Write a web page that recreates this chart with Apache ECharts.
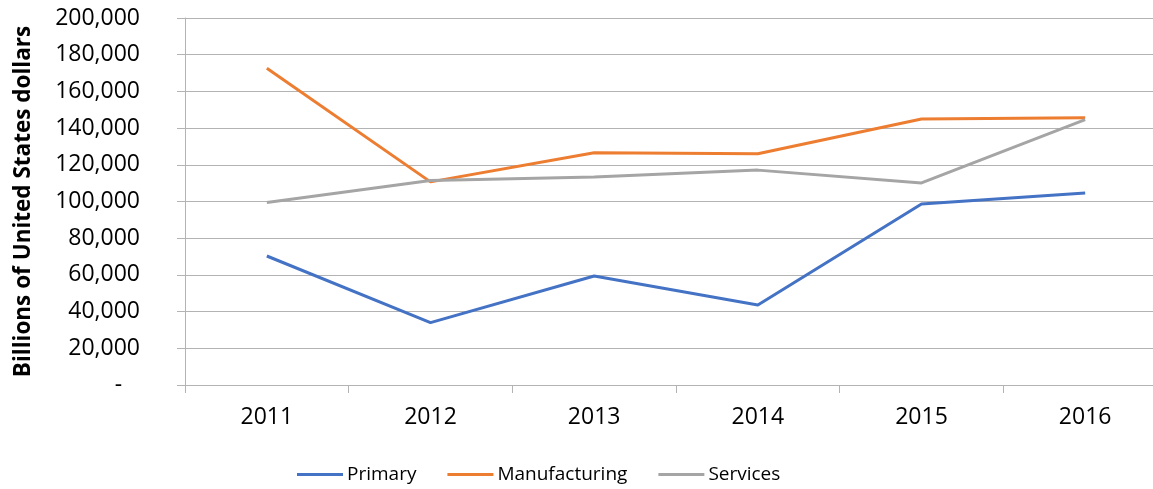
<!DOCTYPE html>
<html>
<head>
<meta charset="utf-8">
<script src="https://cdn.jsdelivr.net/npm/echarts@6/dist/echarts.min.js"></script>
<style>
  html, body { margin: 0; padding: 0; background: #fff; overflow: hidden; }
  /* 图表区右边缘超出窗口，与原图一致 */
  #chart { width: 1170px; height: 489px; }
</style>
</head>
<body>
<div id="chart"></div>
<script>
  // 年份 & 各行业数值
  const years = ['2011', '2012', '2013', '2014', '2015', '2016'];
  const primary = [70300, 34000, 59400, 43600, 98600, 104600];
  const manufacturing = [172600, 110700, 126600, 126000, 145000, 145600];
  const services = [99400, 111500, 113300, 117100, 110100, 144600];

  const chart = echarts.init(document.getElementById('chart'));
  const font = '"Open Sans", sans-serif';
  const gridColor = '#b3b3b3';

  function fmt(v) {
    if (v === 0) return '-   ';
    return v.toString().replace(/\B(?=(\d{3})+(?!\d))/g, ',');
  }

  const option = {
    animation: false,
    grid: { left: 185, top: 18, width: 982, bottom: 104 },
    legend: {
      left: 297,
      top: 465,
      padding: 0,
      icon: 'rect',
      itemWidth: 46,
      itemHeight: 3,
      itemGap: 31,
      textStyle: { fontFamily: font, fontSize: 19, color: '#000', padding: [0, 0, 0, -1] },
      data: ['Primary', 'Manufacturing', 'Services'],
    },
    xAxis: {
      type: 'category',
      data: years,
      boundaryGap: true,
      axisLine: { lineStyle: { color: gridColor, width: 1 } },
      axisTick: { show: true, length: 8, lineStyle: { color: gridColor } },
      axisLabel: { fontFamily: font, fontSize: 23, color: '#000', margin: 21 },
    },
    yAxis: {
      type: 'value',
      min: 0,
      max: 200000,
      interval: 20000,
      name: 'Billions of United States dollars',
      nameLocation: 'middle',
      nameGap: 150,
      nameTextStyle: { fontFamily: font, fontSize: 22.5, fontWeight: 'bold', color: '#000' },
      axisLine: { show: true, lineStyle: { color: gridColor, width: 1 } },
      axisTick: { show: true, length: 8, lineStyle: { color: gridColor } },
      axisLabel: { fontFamily: font, fontSize: 23, color: '#000', margin: 45, formatter: fmt },
      splitLine: { lineStyle: { color: gridColor, width: 1 } },
    },
    series: [
      { name: 'Primary', type: 'line', data: primary, symbol: 'none',
        lineStyle: { width: 3, color: '#4472C4' }, itemStyle: { color: '#4472C4' } },
      { name: 'Manufacturing', type: 'line', data: manufacturing, symbol: 'none',
        lineStyle: { width: 3, color: '#ED7D31' }, itemStyle: { color: '#ED7D31' } },
      { name: 'Services', type: 'line', data: services, symbol: 'none',
        lineStyle: { width: 3, color: '#A5A5A5' }, itemStyle: { color: '#A5A5A5' } },
    ],
  };
  chart.setOption(option);
</script>
</body>
</html>
